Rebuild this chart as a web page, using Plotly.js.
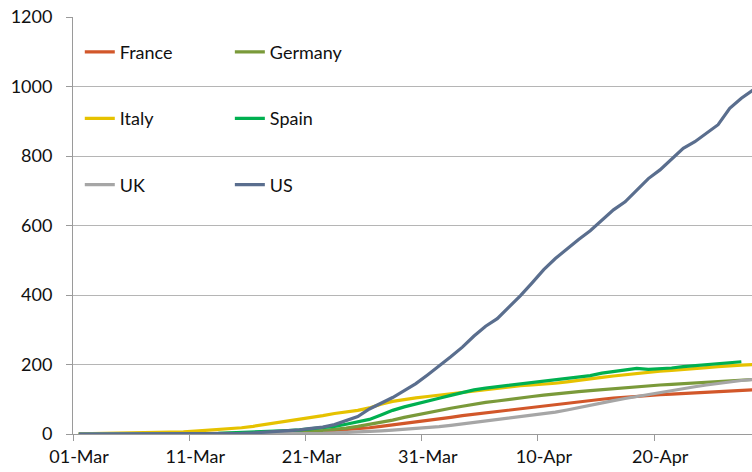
<!DOCTYPE html>
<html>
<head>
<meta charset="utf-8">
<script src="https://cdn.plot.ly/plotly-3.0.1.min.js"></script>
<style>html,body{margin:0;padding:0;background:#fff;}#chart{width:752px;height:472px;}</style>
</head>
<body>
<div id="chart"></div>
<script>
// Day labels: 01-Mar (day 0) through 28-Apr (day 58)
const startDate = '2020-03-01';
const tickDates = ['2020-03-01','2020-03-11','2020-03-21','2020-03-31','2020-04-10','2020-04-20'];
const tickLabels = ['01-Mar','11-Mar','21-Mar','31-Mar','10-Apr','20-Apr'];
const countries = ['France','Germany','Italy','Spain','UK','US'];
const colors = ['#D2572A','#7A9A3A','#E6C200','#00B050','#A6A6A6','#5A6E8E'];
const legendOf = ['legend','legend2','legend','legend2','legend','legend2'];

const france  = [0,0,0,0,0,0,0,0,0,0,0,0,0,0,1,1,1,2,3,4,6,8,10,12,15,18,22,26,30,34,38,43,48,53,57,62,66,70,74,78,82,86,90,93,97,100,103,106,108,111,113,115,117,119,121,123,124,125,127];
const germany = [0,0,0,0,0,0,0,0,0,0,0,0,0,1,1,1,2,3,4,6,8,10,13,17,22,28,33,40,48,55,61,67,74,80,86,91,95,100,104,108,112,116,119,122,125,128,131,134,137,139,141,143,145,147,150,152,154,156,157];
const italy   = [0.5,1,1,2,2,3,3,4,5,6,8,10,12,15,18,22,27,31,36,41,47,53,59,63,68,75,86,94,100,104,108,112,116,121,125,129,133,136,139,141,143,146,150,155,159,163,167,171,175,178,181,183,185,188,191,194,197,198,200];
const spain   = [0,0,0,0,0,0,0,0,1,1,1,2,2,3,4,5,6,8,10,12,15,18,22,28,34,42,55,68,78,87,95,103,111,120,127,132,136,140,144,149,153,157,160,165,168,175,180,186,189,186,187,190,194,197,201,204,206,208];
const uk      = [0,0,0,0,0,0,0,0,0,0,0,0,0,0,0,0,0,0,0,0,1,2,3,4,5,7,9,11,13,16,18,21,25,29,33,37,41,45,49,53,58,63,69,76,84,90,96,102,108,114,120,126,131,136,141,146,150,154,157];
const us      = [0,0,0,0,0,0,0,0,0,0,1,1,1,1,2,3,5,7,9,12,16,20,27,38,50,72,88,105,125,145,170,195,222,250,282,310,332,365,398,435,473,505,534,560,585,615,645,668,700,735,760,790,822,841,866,890,937,966,990];
const series = [france, germany, italy, spain, uk, us];

function dayDate(i){
  const d = new Date(startDate + 'T12:00:00Z');
  d.setUTCDate(d.getUTCDate() + i);
  return d.toISOString().slice(0,19).replace('T',' ');
}

const traces = series.map((vals, k) => ({
  type: 'scatter', mode: 'lines',
  name: countries[k],
  x: vals.map((_, i) => dayDate(i)),
  y: vals,
  line: {color: colors[k], width: 3.2},
  legend: legendOf[k],
  legendgroup: countries[k],
  hoverinfo: 'skip'
}));

const font = {family: 'Lato, "Open Sans", sans-serif', size: 18, color: '#111'};
const legendCommon = {
  orientation: 'v', yanchor: 'top', xanchor: 'left',
  bgcolor: 'rgba(0,0,0,0)', borderwidth: 0,
  font: font, tracegroupgap: 40, itemwidth: 30
};

const layout = {
  width: 752, height: 472,
  margin: {l: 73, r: 0, t: 17, b: 38},
  paper_bgcolor: '#fff', plot_bgcolor: '#fff',
  font: font,
  showlegend: true,
  xaxis: {
    type: 'date',
    range: ['2020-03-01 00:00', '2020-04-28 10:00'],
    tickvals: tickDates, ticktext: tickLabels,
    ticks: 'outside', ticklen: 6, tickcolor: '#9a9a9a', tickwidth: 1,
    ticklabelshift: 6,
    showgrid: false, showline: true, linecolor: '#9a9a9a', linewidth: 1,
    zeroline: false, tickfont: font
  },
  yaxis: {
    range: [0, 1200], tickvals: [0,200,400,600,800,1000,1200],
    ticks: 'outside', ticklen: 6, tickcolor: '#9a9a9a',
    ticklabelstandoff: 10,
    showgrid: true, gridcolor: '#b5b5b5', gridwidth: 1,
    showline: true, linecolor: '#9a9a9a', linewidth: 1,
    zeroline: false, tickfont: font
  },
  legend: Object.assign({}, legendCommon, {x: 0.01, y: 0.96}),
  legend2: Object.assign({}, legendCommon, {x: 0.231, y: 0.96})
};

Plotly.newPlot('chart', traces, layout, {staticPlot: true, displayModeBar: false});
</script>
</body>
</html>
